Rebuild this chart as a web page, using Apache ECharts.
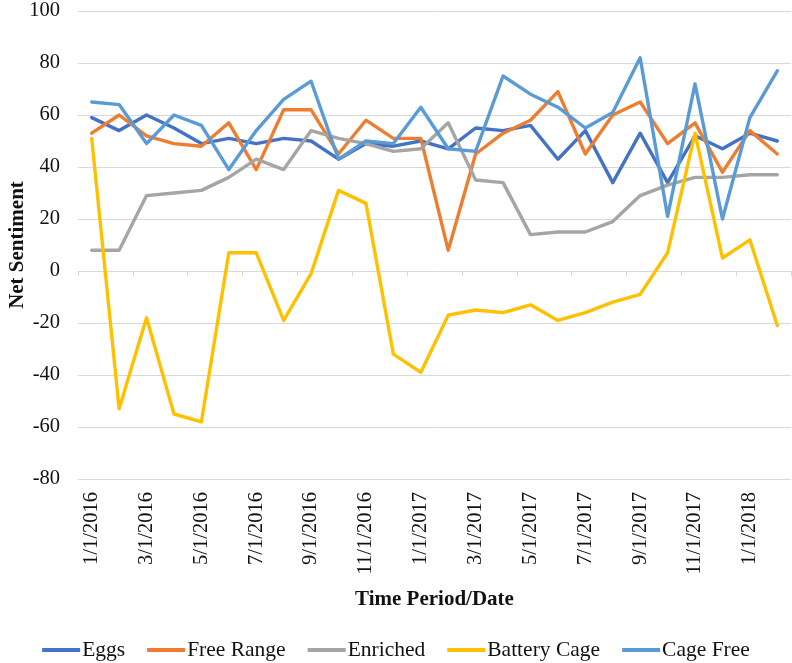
<!DOCTYPE html>
<html>
<head>
<meta charset="utf-8">
<script src="https://cdn.jsdelivr.net/npm/echarts@6/dist/echarts.min.js"></script>
<style>
html,body{margin:0;padding:0;background:#fff;}
#chart{width:792px;height:663px;}
</style>
</head>
<body>
<div id="chart"></div>
<script>
var categories = ["1/1/2016","2/1/2016","3/1/2016","4/1/2016","5/1/2016","6/1/2016","7/1/2016","8/1/2016","9/1/2016","10/1/2016","11/1/2016","12/1/2016",
  "1/1/2017","2/1/2017","3/1/2017","4/1/2017","5/1/2017","6/1/2017","7/1/2017","8/1/2017","9/1/2017","10/1/2017","11/1/2017","12/1/2017",
  "1/1/2018","2/1/2018"];
var eggs = [59,54,60,55,49,51,49,51,50,43,49,48,50,47,55,54,56,43,54,34,53,34,52,47,53,50];
var freeRange = [53,60,52,49,48,57,39,62,62,45,58,51,51,8,45,53,58,69,45,60,65,49,57,38,54,45];
var enriched = [8,8,29,30,31,36,43,39,54,51,49,46,47,57,35,34,14,15,15,19,29,33,36,36,37,37];
var batteryCage = [51,-53,-18,-55,-58,7,7,-19,-1,31,26,-32,-39,-17,-15,-16,-13,-19,-16,-12,-9,7,53,5,12,-21];
var cageFree = [65,64,49,60,56,39,54,66,73,43,50,49,63,47,46,75,68,63,55,61,82,21,72,20,59,77];

var seriesNames = ["Eggs","Free Range","Enriched","Battery Cage","Cage Free"];
var seriesData = [eggs, freeRange, enriched, batteryCage, cageFree];
var colors = ["#4472C4","#ED7D31","#A5A5A5","#FFC000","#5B9BD5"];

var FONT = '"Liberation Serif","Times New Roman",serif';
var FS = 20.5;

var chart = echarts.init(document.getElementById('chart'), null, {renderer:'canvas'});
chart.setOption({
  animation: false,
  color: colors,
  grid: {left: 78, right: 1, top: 11, bottom: 184, containLabel: false, outerBoundsMode: 'none'},
  legend: {
    bottom: -3, left: 'center',
    icon: 'rect', itemWidth: 38, itemHeight: 4, itemGap: 22,
    textStyle: {fontFamily: FONT, fontSize: 21.5, color: '#111', padding: [0,0,0,-3]},
    data: seriesNames
  },
  xAxis: [{
    type: 'category', data: categories, boundaryGap: true, position: 'bottom',
    axisLine: {show: false, onZero: false}, axisTick: {show: false},
    axisLabel: {interval: 1, rotate: 90, margin: 13, fontFamily: FONT, fontSize: FS, color: '#111'},
    name: 'Time Period/Date', nameLocation: 'middle', nameGap: 110, nameMoveOverlap: false,
    nameTextStyle: {fontFamily: FONT, fontSize: 21, fontWeight: 'bold', color: '#111'}
  },{
    type: 'category', data: categories, boundaryGap: true, position: 'bottom',
    axisLine: {show: true, onZero: true, lineStyle: {color: '#d9d9d9', width: 1}},
    axisTick: {show: true, interval: 1, length: 5, lineStyle: {color: '#d9d9d9'}},
    axisLabel: {show: false}, splitLine: {show: false}
  }],
  yAxis: {
    type: 'value', min: -80, max: 100, interval: 20,
    axisLine: {show: false}, axisTick: {show: false},
    splitLine: {lineStyle: {color: '#d9d9d9', width: 1}},
    axisLabel: {margin: 18, fontFamily: FONT, fontSize: FS, color: '#111'},
    name: 'Net Sentiment', nameLocation: 'middle', nameGap: 50, nameRotate: 90, nameMoveOverlap: false,
    nameTextStyle: {fontFamily: FONT, fontSize: 21, fontWeight: 'bold', color: '#111'}
  },
  series: seriesNames.map(function(n, i){
    return {
      name: n, type: 'line', xAxisIndex: 0, data: seriesData[i],
      showSymbol: false, symbol: 'none',
      lineStyle: {width: 3.4, color: colors[i], cap: 'round', join: 'round'},
      itemStyle: {color: colors[i]}
    };
  })
});
</script>
</body>
</html>
